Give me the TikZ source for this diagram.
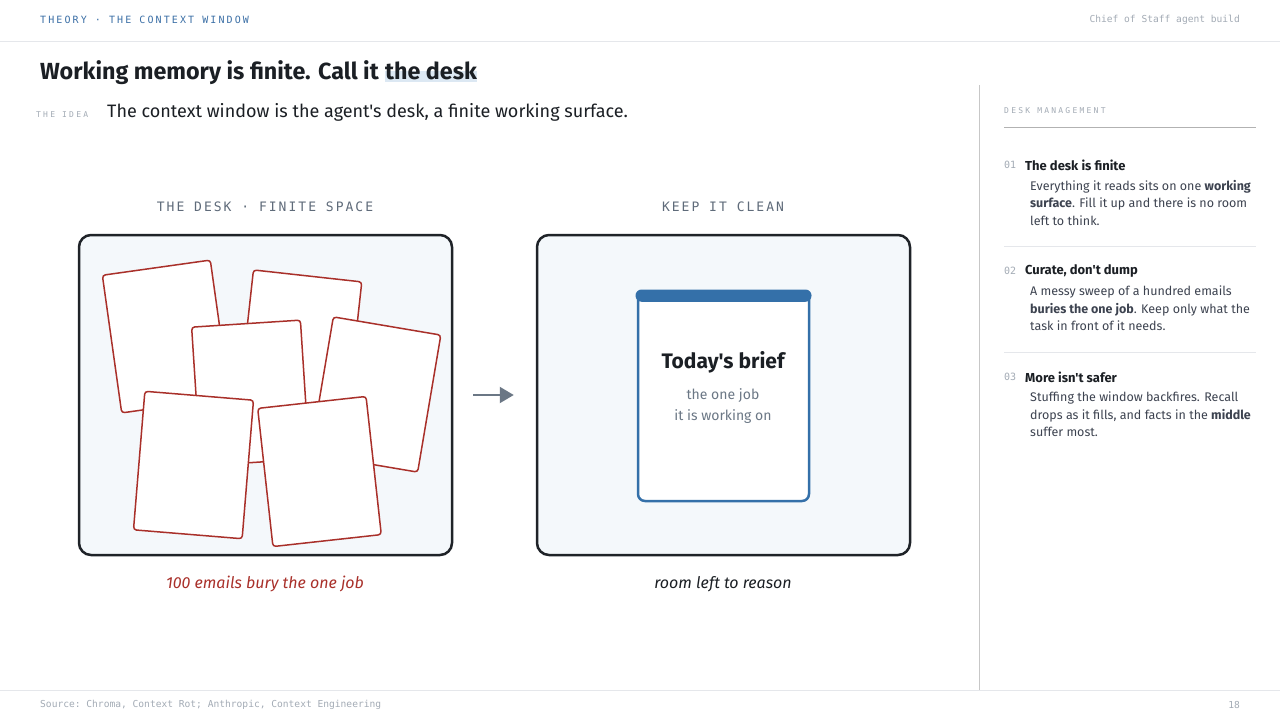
\documentclass[tikz,border=0pt]{standalone}
\usepackage{fontspec}
\setmainfont{Fira Sans}[Ligatures=TeXOff]
\setmonofont{DejaVu Sans Mono}
\newfontfamily\monohead[LetterSpace=21]{DejaVu Sans Mono}
\newfontfamily\monopanel[LetterSpace=15.5]{DejaVu Sans Mono}
\newfontfamily\monotiny[LetterSpace=28]{DejaVu Sans Mono}
\usetikzlibrary{positioning,arrows.meta,backgrounds}

\definecolor{inkdark}{HTML}{1B1F24}
\definecolor{headblue}{HTML}{3B6FA6}
\definecolor{rulegray}{HTML}{E5E7EB}
\definecolor{mutedgray}{HTML}{A3ABB5}
\definecolor{slate}{HTML}{5F6B7A}
\definecolor{deskfill}{HTML}{F4F8FB}
\definecolor{deskline}{HTML}{1F2328}
\definecolor{cardred}{HTML}{A9302A}
\definecolor{briefblue}{HTML}{3470A9}
\definecolor{hlblue}{HTML}{DCE8F3}
\definecolor{bodygray}{HTML}{3D4350}
\definecolor{arrowgray}{HTML}{6B7785}

\begin{document}
\begin{tikzpicture}[
    x=1pt, y=-1pt,
    every node/.style={inner sep=0pt},
    headtag/.style={font=\monohead\fontsize{10}{12}\selectfont, text=headblue},
    smalltag/.style={font=\monotiny\fontsize{8}{10}\selectfont, text=mutedgray},
    mononote/.style={font=\ttfamily\fontsize{9.6}{12}\selectfont, text=mutedgray},
    panelhead/.style={font=\monopanel\fontsize{13}{15}\selectfont, text=slate},
    desk/.style={draw=deskline, line width=2.5pt, fill=deskfill, rounded corners=12pt,
        minimum width=373pt, minimum height=320pt},
    paper/.style={draw=cardred, line width=1.5pt, fill=white, rounded corners=3pt,
        minimum width=109pt, minimum height=139pt},
    brief/.style={draw=briefblue, line width=2.5pt, fill=white, rounded corners=7pt,
        minimum width=171pt, minimum height=209pt},
    arrow/.style={-{Triangle[length=14pt,width=16pt]}, line width=2pt, draw=arrowgray, fill=arrowgray},
    rule/.style={draw=rulegray, line width=1pt},
    itemnum/.style={font=\ttfamily\fontsize{10}{12}\selectfont, text=mutedgray, anchor=west},
    itemtitle/.style={font=\bfseries\fontsize{13}{15}\selectfont, text=inkdark, anchor=west},
    itembody/.style={font=\fontsize{12.5}{17.5}\selectfont, text=bodygray, anchor=north west, align=left}
]
\useasboundingbox (0,0) rectangle (1280,720);

% header
\node[headtag, anchor=west] (section) at (40,20) {THEORY · THE CONTEXT WINDOW};
\node[mononote, anchor=east] (build) at (1240,20) {Chief of Staff agent build};
\draw[rule] (0,41) -- (1280,41);

% title and idea
\node[font=\bfseries\fontsize{23.3}{28}\selectfont, text=inkdark, anchor=base west] (title) at (40,79) {Working memory is finite. Call it};
\node[font=\bfseries\fontsize{23.3}{28}\selectfont, text=inkdark, anchor=base west] (titledesk) at ([xshift=6pt]title.base east) {the desk};
\begin{scope}[on background layer]
  \fill[white] (0,0) rectangle (1280,720);
  \fill[hlblue] ([yshift=-3pt]titledesk.base west) rectangle ([yshift=8pt]titledesk.base east);
\end{scope}
\node[smalltag, anchor=west] (idea) at (36,115) {THE IDEA};
\node[font=\fontsize{18}{22}\selectfont, text=inkdark, anchor=west] (ideatext) at (107,112) {The context window is the agent's desk, a finite working surface.};

% the two desks
\node[panelhead] (messhead) at (265,207) {THE DESK · FINITE SPACE};
\node[panelhead] (cleanhead) at (723,207) {KEEP IT CLEAN};
\node[desk] (mess) at (265.5,395) {};
\node[desk] (clean) at (723.5,395) {};

% scattered emails
\node[paper, rotate=8] (mail1) at (166,336.5) {};
\node[paper, rotate=-6.3] (mail2) at (300,345) {};
\node[paper, rotate=3.7] (mail3) at (250.5,393) {};
\node[paper, rotate=-9.6] (mail4) at (375.5,394.5) {};
\node[paper, rotate=-4.7] (mail5) at (193.5,465) {};
\node[paper, rotate=6.3] (mail6) at (319.5,471.5) {};

\draw[arrow] ([xshift=20pt]mess.east) -- ([xshift=-22pt]clean.west);

% today's brief
\node[brief] (brief) at (723.5,396.5) {};
\fill[briefblue, rounded corners=6pt] ([xshift=-1.25pt,yshift=1.25pt]brief.north west) rectangle ([xshift=1.25pt,yshift=-11pt]brief.north east);
\node[font=\bfseries\fontsize{21}{25}\selectfont, text=inkdark] (brieftitle) at (723,362) {Today's brief};
\node[font=\fontsize{14}{21}\selectfont, text=arrowgray, align=center, anchor=north] (briefnote) at (723,388) {the one job\\it is working on};

\node[font=\itshape\fontsize{16}{19}\selectfont, text=cardred] (messcap) at (265,584) {100 emails bury the one job};
\node[font=\itshape\fontsize{16}{19}\selectfont, text=inkdark] (cleancap) at (723,584) {room left to reason};

% side panel
\draw[draw=black!22, line width=1pt] (979,85) -- (979,690);
\node[smalltag, anchor=west] (panel) at (1004,111) {DESK MANAGEMENT};
\draw[draw=black!30, line width=1pt] (1004,127) -- (1256,127);

\node[itemnum] (num1) at (1004,165) {01};
\node[itemtitle] (item1) at (1025,165) {The desk is finite};
\node[itembody] (body1) at (1030,180) {Everything it reads sits on one \textbf{working}\\\textbf{surface}. Fill it up and there is no room\\left to think.};
\draw[rule] (1004,246) -- (1256,246);

\node[itemnum] (num2) at (1004,271) {02};
\node[itemtitle] (item2) at (1025,271) {Curate, don't dump};
\node[itembody] (body2) at (1030,286) {A messy sweep of a hundred emails\\\textbf{buries the one job}. Keep only what the\\task in front of it needs.};
\draw[rule] (1004,352) -- (1256,352);

\node[itemnum] (num3) at (1004,377) {03};
\node[itemtitle] (item3) at (1025,377) {More isn't safer};
\node[itembody] (body3) at (1030,392) {Stuffing the window backfires. Recall\\drops as it fills, and facts in the \textbf{middle}\\suffer most.};

% footer
\draw[rule] (0,690) -- (1280,690);
\node[mononote, anchor=west] (source) at (40,705) {Source: Chroma, Context Rot; Anthropic, Context Engineering};
\node[mononote, anchor=east] (page) at (1240,705) {18};
\end{tikzpicture}
\end{document}
